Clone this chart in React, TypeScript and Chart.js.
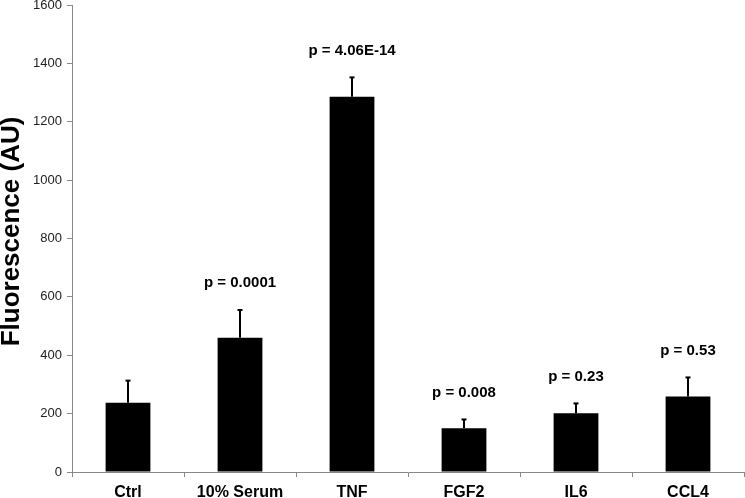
import React, { useEffect, useRef } from "react";
import { Chart, registerables } from "chart.js";

Chart.register(...registerables);

const categories = ["Ctrl", "10% Serum", "TNF", "FGF2", "IL6", "CCL4"];
const means = [237, 460, 1286, 150, 201, 259];
const errors = [76, 95, 66, 30, 34, 65];
const pLabels = ["", "p = 0.0001", "p = 4.06E-14", "p = 0.008", "p = 0.23", "p = 0.53"];
const yTicks = [0, 200, 400, 600, 800, 1000, 1200, 1400, 1600];
const yTitle = "Fluorescence (AU)";

const FONT = "'Liberation Sans', Arial, sans-serif";

const errorBarPlugin = {
  id: "errorBars",
  afterDatasetsDraw(chart: any) {
    const ctx = chart.ctx;
    const meta = chart.getDatasetMeta(0);
    const yScale = chart.scales.y;
    ctx.save();
    meta.data.forEach((bar: any, i: number) => {
      const x = bar.x;
      const yTop = yScale.getPixelForValue(means[i]);
      const yErr = yScale.getPixelForValue(means[i] + errors[i]);
      ctx.strokeStyle = "#000";
      ctx.lineWidth = 2;
      ctx.beginPath();
      ctx.moveTo(x, yTop);
      ctx.lineTo(x, yErr);
      ctx.stroke();
      ctx.beginPath();
      ctx.moveTo(x - 2.5, yErr);
      ctx.lineTo(x + 2.5, yErr);
      ctx.stroke();
      if (pLabels[i]) {
        ctx.fillStyle = "#000";
        ctx.font = `bold 15px ${FONT}`;
        ctx.textAlign = "center";
        ctx.textBaseline = "middle";
        ctx.fillText(pLabels[i], x, yErr - 27);
      }
    });
    // y-axis title
    const area = chart.chartArea;
    ctx.translate(12, (area.top + area.bottom) / 2 - 7);
    ctx.rotate(-Math.PI / 2);
    ctx.fillStyle = "#000";
    ctx.font = `bold 26px ${FONT}`;
    ctx.textAlign = "center";
    ctx.textBaseline = "middle";
    ctx.fillText(yTitle, 0, 0);
    ctx.restore();
  },
};

export default function App() {
  const ref = useRef<HTMLCanvasElement | null>(null);
  useEffect(() => {
    document.body.style.margin = "0";
    const chart = new Chart(ref.current as HTMLCanvasElement, {
      type: "bar",
      data: {
        labels: categories,
        datasets: [
          {
            data: means,
            backgroundColor: "#000",
            borderWidth: 0,
            barPercentage: 0.4,
            categoryPercentage: 1,
          },
        ],
      },
      options: {
        animation: false,
        responsive: false,
        maintainAspectRatio: false,
        layout: { padding: { top: 5, right: 1, left: 0, bottom: 0 } },
        plugins: { legend: { display: false }, tooltip: { enabled: false } },
        scales: {
          x: {
            grid: {
              offset: true,
              drawOnChartArea: false,
              drawTicks: true,
              tickLength: 5,
              color: "#888",
            },
            border: { color: "#888", width: 1 },
            ticks: {
              color: "#000",
              font: { family: FONT, size: 16, weight: "bold" },
              padding: 6,
            },
            afterFit(scale: any) {
              scale.height = 26;
              scale.paddingLeft = 0;
              scale.paddingRight = 0;
            },
          },
          y: {
            min: 0,
            max: 1600,
            afterBuildTicks(scale: any) {
              scale.ticks = yTicks.map((v) => ({ value: v }));
            },
            grid: {
              drawOnChartArea: false,
              drawTicks: true,
              tickLength: 5,
              color: "#888",
            },
            border: { color: "#888", width: 1 },
            ticks: {
              color: "#222",
              font: { family: FONT, size: 13 },
              padding: 5,
              callback: (v: any) => String(v),
            },
            afterFit(scale: any) {
              scale.width = 72;
              scale.paddingTop = 0;
              scale.paddingBottom = 0;
            },
          },
        },
      },
      plugins: [errorBarPlugin],
    });
    return () => chart.destroy();
  }, []);
  return (
    <div style={{ width: 745, height: 498, background: "#fff" }}>
      <canvas ref={ref} width={745} height={498} style={{ width: 745, height: 498 }} />
    </div>
  );
}
